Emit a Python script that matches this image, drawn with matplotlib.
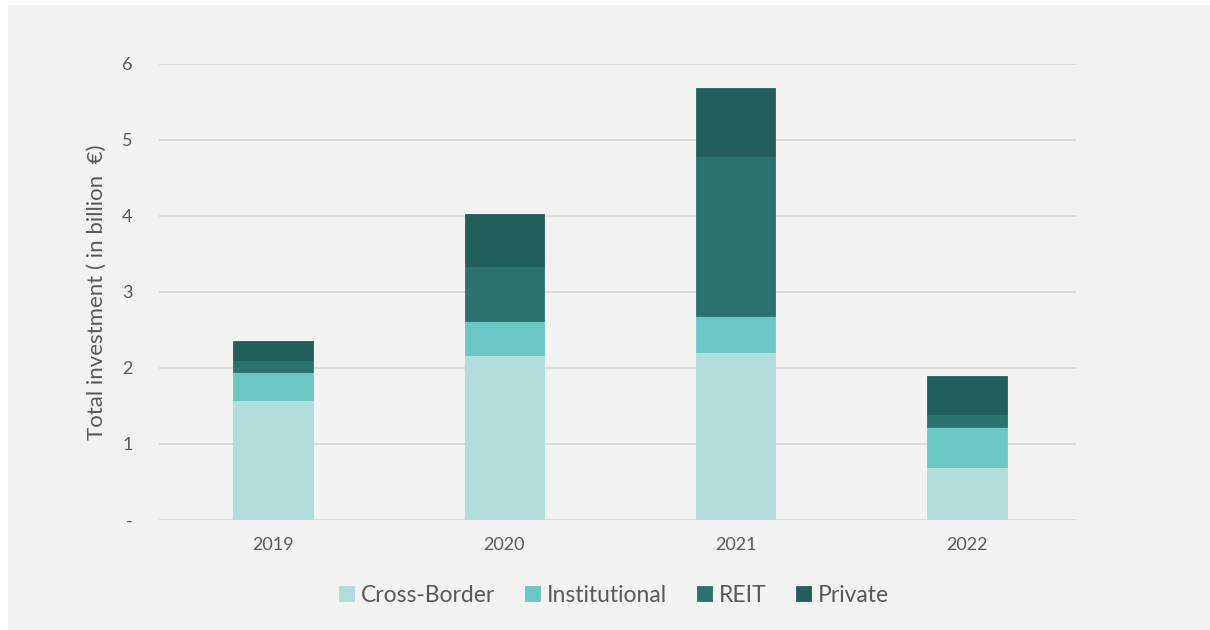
import matplotlib.pyplot as plt
from matplotlib.patches import Rectangle
import numpy as np

plt.rcParams['font.family'] = ['Lato', 'DejaVu Sans']

years = ["2019", "2020", "2021", "2022"]
cross_border = [1.58, 2.17, 2.21, 0.70]
institutional = [0.37, 0.45, 0.47, 0.53]
reit = [0.16, 0.72, 2.11, 0.16]
private = [0.25, 0.69, 0.90, 0.50]

series = [
    ("Cross-Border", cross_border, "#B0DCDB"),
    ("Institutional", institutional, "#6CC6C3"),
    ("REIT", reit, "#2A736F"),
    ("Private", private, "#225F5B"),
]

fig = plt.figure(figsize=(12.1, 6.3), dpi=100)
fig.patch.set_facecolor("white")
# grey panel behind the chart
fig.patches.append(Rectangle((8 / 1210, 0), 1, 1 - 5 / 630, transform=fig.transFigure,
                             facecolor="#F2F2F2", edgecolor="none", zorder=-5))

ax = fig.add_axes([159 / 1210, 110 / 630, 917 / 1210, 456 / 630])
ax.patch.set_alpha(0)

x = np.arange(len(years))
bottom = np.zeros(len(years))
for name, vals, col in series:
    ax.bar(x, vals, width=0.342, bottom=bottom, color=col, label=name,
           edgecolor=col, linewidth=0.6, zorder=3)
    bottom += np.array(vals)

ax.set_xlim(-0.493, 3.471)
ax.set_ylim(0, 6)
ax.set_yticks(range(7))
ax.set_yticklabels(["-", "1", "2", "3", "4", "5", "6"])
ax.set_xticks(x)
ax.set_xticklabels(years)
ax.tick_params(axis="both", length=0, colors="#595959", labelsize=13)
ax.tick_params(axis="y", pad=19)
ax.tick_params(axis="x", pad=12)
ax.grid(axis="y", color="#D9D9D9", linewidth=1.2, zorder=0)
for s in ax.spines.values():
    s.set_visible(False)

ax.set_ylabel("Total investment ( in billion  €)", fontsize=16, color="#595959", labelpad=11)

leg = fig.legend(loc="center", bbox_to_anchor=(614 / 1210, 1 - 595 / 630), ncol=4,
                 frameon=False, fontsize=16.5, handlelength=0.65, handleheight=0.65,
                 handletextpad=0.3, columnspacing=1.3)
for t in leg.get_texts():
    t.set_color("#595959")

fig.savefig("out.png", dpi=100, facecolor=fig.get_facecolor())
